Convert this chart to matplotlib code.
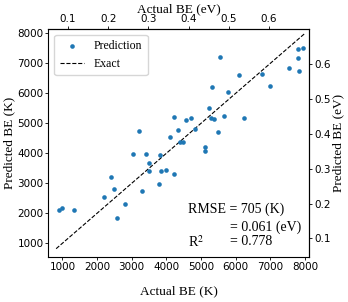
import matplotlib
matplotlib.use("Agg")
import numpy as np
import matplotlib.pyplot as plt

# binding energies (K)
actual_k = [913, 991, 1340, 2211, 2413, 2491, 2587, 2812, 3039, 3212,
            3310, 3405, 3501, 3510, 3775, 3812, 3838, 3985, 4213, 4116,
            4230, 4346, 4385, 4475, 4565, 4703, 4815, 5107, 5125, 5231,
            5305, 5295, 5380, 5549, 5495, 5655, 5779, 6088, 6226, 6745,
            6991, 7525, 7790, 7790, 7832, 7951]
predicted_k = [2120, 2190, 2110, 2543, 3210, 2820, 1853, 2320, 3980, 4730,
               2753, 3980, 3667, 3415, 2960, 3940, 3415, 3448, 3310, 4543,
               5225, 4770, 4380, 4387, 5100, 5187, 4810, 4077, 4205, 5520,
               6200, 5160, 5127, 7205, 4710, 5253, 6053, 6600, 5187, 6643,
               6250, 6833, 7490, 7167, 6748, 7500]
exact_range = [820, 7980]

K_TO_EV = 8.617333e-5

def k2ev(x):
    return np.asarray(x) * K_TO_EV

def ev2k(x):
    return np.asarray(x) / K_TO_EV

serif = "Liberation Serif"
tick_kw = dict(labelsize=7.5, length=2, width=0.6, pad=1.5)

fig = plt.figure(figsize=(3.48, 3.02), dpi=100)
ax = fig.add_axes([0.139, 0.149, 0.749, 0.755])

ax.scatter(actual_k, predicted_k, s=11, color="#1f77b4", linewidths=0, label="Prediction", zorder=3)
ax.plot(exact_range, exact_range, "k--", lw=0.8, label="Exact")

ax.set_xlim(596, 8115)
ax.set_ylim(543, 8143)
ax.set_xticks(range(1000, 8001, 1000))
ax.set_yticks(range(1000, 8001, 1000))
ax.tick_params(**tick_kw)
for s in ax.spines.values():
    s.set_linewidth(0.8)

ax.set_xlabel("Actual BE (K)", fontfamily=serif, fontsize=9.5, labelpad=10)
ax.set_ylabel("Predicted BE (K)", fontfamily=serif, fontsize=9.5, labelpad=1.5)

top = ax.secondary_xaxis("top", functions=(k2ev, ev2k))
top.set_xticks([0.1, 0.2, 0.3, 0.4, 0.5, 0.6])
top.tick_params(**tick_kw)
top.set_xlabel("Actual BE (eV)", fontfamily=serif, fontsize=9.5, labelpad=1.5)

right = ax.secondary_yaxis("right", functions=(k2ev, ev2k))
right.set_yticks([0.1, 0.2, 0.3, 0.4, 0.5, 0.6])
right.tick_params(**tick_kw)
right.set_ylabel("Predicted BE (eV)", fontfamily=serif, fontsize=9.5, labelpad=1.5)

ax.legend(loc="upper left", prop={"family": serif, "size": 8.5}, scatterpoints=1,
          handlelength=2.1, borderpad=0.45, labelspacing=0.5, framealpha=0.8)

ax.text(0.537, 0.209, "RMSE = 705 (K)", transform=ax.transAxes, fontfamily=serif, fontsize=10, va="center")
ax.text(0.697, 0.132, "= 0.061 (eV)", transform=ax.transAxes, fontfamily=serif, fontsize=10, va="center")
ax.text(0.537, 0.067, "R$^2$", transform=ax.transAxes, fontfamily=serif, fontsize=10, va="center",
        math_fontfamily="stix")
ax.text(0.697, 0.067, "= 0.778", transform=ax.transAxes, fontfamily=serif, fontsize=10, va="center")

fig.savefig("out.png", dpi=100)
